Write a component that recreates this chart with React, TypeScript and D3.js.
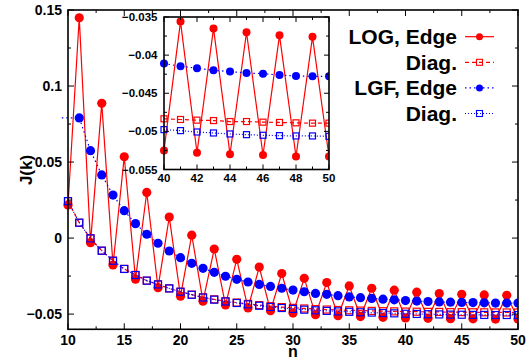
import { useRef, useEffect } from 'react';
import * as d3 from 'd3';

// main plot, n = 10..50
const nMain = d3.range(10, 51);
const logEdge = [
  0.0218, 0.1449, -0.003, 0.0886, -0.0177, 0.0535, -0.027, 0.03, -0.0326, 0.0138,
  -0.0382, 0.0019, -0.0415, -0.0072, -0.044, -0.014, -0.046, -0.0191, -0.0478, -0.0233,
  -0.0493, -0.0265, -0.0504, -0.0293, -0.0511, -0.0315, -0.0516, -0.033, -0.0521, -0.0343,
  -0.0525, -0.0356, -0.0528, -0.0365, -0.053, -0.037, -0.0531, -0.0374, -0.0533, -0.0376,
  -0.0533,
];
const logDiag = [
  0.0243, 0.0101, -0.0002, -0.0083, -0.0149, -0.0203, -0.0243, -0.028, -0.0305, -0.0331,
  -0.0353, -0.0372, -0.039, -0.0403, -0.0415, -0.0424, -0.0433, -0.0441, -0.0448, -0.0454,
  -0.0459, -0.0463, -0.0467, -0.047, -0.0473, -0.0475, -0.0477, -0.0479, -0.0481, -0.0482,
  -0.04835, -0.04844, -0.04853, -0.04858, -0.04871, -0.04871, -0.04879, -0.04883, -0.04888, -0.04892,
  -0.04892,
];
const lgfEdge = [
  0.079, 0.079, 0.0575, 0.0415, 0.0283, 0.018, 0.0095, 0.0025, -0.0034, -0.0085,
  -0.0129, -0.0166, -0.0199, -0.0225, -0.0251, -0.0271, -0.0289, -0.0305, -0.0318, -0.033,
  -0.0342, -0.0353, -0.0364, -0.037, -0.0379, -0.0387, -0.0392, -0.0397, -0.0402, -0.0406,
  -0.0411, -0.04146, -0.04172, -0.04199, -0.04216, -0.04235, -0.04243, -0.04261, -0.04274, -0.04278,
  -0.04278,
];
const lgfDiag = [
  0.0243, 0.0101, -0.0002, -0.0083, -0.0149, -0.0203, -0.0243, -0.028, -0.0305, -0.0331,
  -0.0353, -0.0373, -0.0391, -0.0405, -0.0417, -0.0427, -0.0436, -0.0445, -0.0453, -0.046,
  -0.0466, -0.0471, -0.0475, -0.0479, -0.0482, -0.0485, -0.0488, -0.049, -0.0493, -0.0495,
  -0.04977, -0.0499, -0.05008, -0.05021, -0.05034, -0.05043, -0.05051, -0.05056, -0.0506, -0.0506,
  -0.05065,
];

const xTicks = [10, 15, 20, 25, 30, 35, 40, 45, 50];
const yTicks = [-0.05, 0, 0.05, 0.1, 0.15];
const insetXTicks = [40, 42, 44, 46, 48, 50];
const insetYTicks = [-0.055, -0.05, -0.045, -0.04, -0.035];
const legendLabels = ['LOG, Edge', 'Diag.', 'LGF, Edge', 'Diag.'];

const RED = '#ff0000';
const BLUE = '#0000ff';
const FONT = '"Liberation Sans", Arial, sans-serif';

export default function App() {
  const ref = useRef<SVGSVGElement | null>(null);

  useEffect(() => {
    const svg = d3.select(ref.current);
    svg.selectAll('*').remove();

    const series = [
      { v: logEdge, color: RED, dash: null, sym: 'circle', skipFirst: false },
      { v: logDiag, color: RED, dash: '4,3', sym: 'square', skipFirst: false },
      { v: lgfEdge, color: BLUE, dash: '1.5,3', sym: 'circle', skipFirst: true },
      { v: lgfDiag, color: BLUE, dash: '1,2', sym: 'square', skipFirst: false },
    ];

    const drawPanel = (
      g: any,
      x: any,
      y: any,
      ns: number[],
      lo: number,
      cr: number,
      sq: number,
      clipId: string,
    ) => {
      const [x0, x1] = x.range();
      const [y1, y0] = y.range();
      svg
        .append('clipPath')
        .attr('id', clipId)
        .append('rect')
        .attr('x', x0 - 8)
        .attr('y', y0)
        .attr('width', x1 - x0 + 8)
        .attr('height', y1 - y0);
      const pg = g.append('g').attr('clip-path', `url(#${clipId})`);
      series.forEach((s) => {
        const pts = ns.map((n) => ({ n, v: s.v[n - 10] }));
        const line = d3
          .line<any>()
          .x((d) => x(d.n))
          .y((d) => y(d.v));
        let linePts = pts;
        if (s.skipFirst && lo === 10) {
          // line continues past the left border in the original
          linePts = [{ n: 9.45, v: pts[0].v }, ...pts.slice(1)];
        }
        pg.append('path')
          .attr('d', line(linePts))
          .attr('fill', 'none')
          .attr('stroke', s.color)
          .attr('stroke-width', 1.2)
          .attr('stroke-dasharray', s.dash);
        const mpts = s.skipFirst && lo === 10 ? pts.slice(1) : pts;
        if (s.sym === 'circle') {
          pg.selectAll(null)
            .data(mpts)
            .enter()
            .append('circle')
            .attr('cx', (d: any) => x(d.n))
            .attr('cy', (d: any) => y(d.v))
            .attr('r', cr)
            .attr('fill', s.color);
        } else {
          pg.selectAll(null)
            .data(mpts)
            .enter()
            .append('rect')
            .attr('x', (d: any) => x(d.n) - sq / 2)
            .attr('y', (d: any) => y(d.v) - sq / 2)
            .attr('width', sq)
            .attr('height', sq)
            .attr('fill', 'none')
            .attr('stroke', s.color)
            .attr('stroke-width', 1.2);
        }
      });
    };

    const drawTicks = (g: any, x: any, y: any, xt: number[], xm: number[], yt: number[], ym: number[], big: number, small: number) => {
      const [x0, x1] = x.range();
      const [y1, y0] = y.range();
      const tk = g.append('g').attr('stroke', '#000').attr('stroke-width', 1);
      const put = (xa: number, ya: number, xb: number, yb: number) =>
        tk.append('line').attr('x1', xa).attr('y1', ya).attr('x2', xb).attr('y2', yb);
      xt.forEach((t) => {
        put(x(t), y1, x(t), y1 - big);
        put(x(t), y0, x(t), y0 + big);
      });
      xm.forEach((t) => {
        put(x(t), y1, x(t), y1 - small);
        put(x(t), y0, x(t), y0 + small);
      });
      yt.forEach((t) => {
        put(x0, y(t), x0 + big, y(t));
        put(x1, y(t), x1 - big, y(t));
      });
      ym.forEach((t) => {
        put(x0, y(t), x0 + small, y(t));
        put(x1, y(t), x1 - small, y(t));
      });
      g.append('rect')
        .attr('x', x0)
        .attr('y', y0)
        .attr('width', x1 - x0)
        .attr('height', y1 - y0)
        .attr('fill', 'none')
        .attr('stroke', '#000')
        .attr('stroke-width', 1.6);
    };

    // main panel
    const x = d3.scaleLinear().domain([10, 50]).range([68, 518]);
    const y = d3.scaleLinear().domain([-0.06, 0.15]).range([329.3, 10]);
    const g = svg.append('g');
    drawPanel(g, x, y, nMain, 10, 4.6, 7, 'clipMain');
    drawTicks(
      g, x, y, xTicks, xTicks.slice(0, -1).map((t) => t + 2.5),
      yTicks, [-0.025, 0.025, 0.075, 0.125], 6, 3,
    );

    g.selectAll(null)
      .data(xTicks)
      .enter()
      .append('text')
      .attr('x', (d: number) => x(d))
      .attr('y', 345)
      .attr('text-anchor', 'middle')
      .style('font', `bold 14px ${FONT}`)
      .text((d: number) => d3.format('')(d));
    g.selectAll(null)
      .data(yTicks)
      .enter()
      .append('text')
      .attr('x', 62)
      .attr('y', (d: number) => y(d))
      .attr('dy', '0.35em')
      .attr('text-anchor', 'end')
      .style('font', `bold 14px ${FONT}`)
      .text((d: number) => (d === 0 ? '0' : d3.format('~g')(d)));
    g.append('text')
      .attr('x', 293)
      .attr('y', 357)
      .attr('text-anchor', 'middle')
      .style('font', `bold 16px ${FONT}`)
      .text('n');
    g.append('text')
      .attr('transform', `translate(32,170) rotate(-90)`)
      .attr('text-anchor', 'middle')
      .style('font', `bold 17px ${FONT}`)
      .text('J(k)');

    // legend
    const lg = svg.append('g');
    legendLabels.forEach((lab, i) => {
      const s = series[i];
      const cy = 36.7 + i * 25.6;
      lg.append('text')
        .attr('x', 457)
        .attr('y', cy)
        .attr('dy', '0.35em')
        .attr('text-anchor', 'end')
        .style('font', `bold 21px ${FONT}`)
        .text(lab);
      lg.append('line')
        .attr('x1', 465)
        .attr('x2', 494)
        .attr('y1', cy)
        .attr('y2', cy)
        .attr('stroke', s.color)
        .attr('stroke-width', 1.2)
        .attr('stroke-dasharray', s.dash);
      if (s.sym === 'circle') {
        lg.append('circle').attr('cx', 479.5).attr('cy', cy).attr('r', 3.5).attr('fill', s.color);
      } else {
        lg.append('rect')
          .attr('x', 476.5)
          .attr('y', cy - 3)
          .attr('width', 6)
          .attr('height', 6)
          .attr('fill', 'none')
          .attr('stroke', s.color)
          .attr('stroke-width', 1.1);
      }
    });

    // inset
    const xi = d3.scaleLinear().domain([40, 50]).range([164, 329]);
    const yi = d3.scaleLinear().domain([-0.055, -0.035]).range([169.5, 17]);
    const gi = svg.append('g');
    gi.append('rect')
      .attr('x', 164)
      .attr('y', 17)
      .attr('width', 165)
      .attr('height', 152.5)
      .attr('fill', '#fff');
    drawPanel(gi, xi, yi, d3.range(40, 51), 40, 4, 6, 'clipInset');
    drawTicks(
      gi, xi, yi, insetXTicks, [41, 43, 45, 47, 49],
      insetYTicks, [-0.0525, -0.0475, -0.0425, -0.0375], 5, 3,
    );
    gi.selectAll(null)
      .data(insetXTicks)
      .enter()
      .append('text')
      .attr('x', (d: number) => xi(d))
      .attr('y', 182)
      .attr('text-anchor', 'middle')
      .style('font', `bold 11.5px ${FONT}`)
      .text((d: number) => String(d));
    gi.selectAll(null)
      .data(insetYTicks)
      .enter()
      .append('text')
      .attr('x', 157.5)
      .attr('y', (d: number) => yi(d))
      .attr('dy', '0.35em')
      .attr('text-anchor', 'end')
      .style('font', `bold 11.5px ${FONT}`)
      .text((d: number) => d3.format('~g')(d));
  }, []);

  return (
    <svg
      ref={ref}
      width={527}
      height={360}
      style={{ position: 'absolute', left: 0, top: 0, background: '#fff' }}
    />
  );
}
